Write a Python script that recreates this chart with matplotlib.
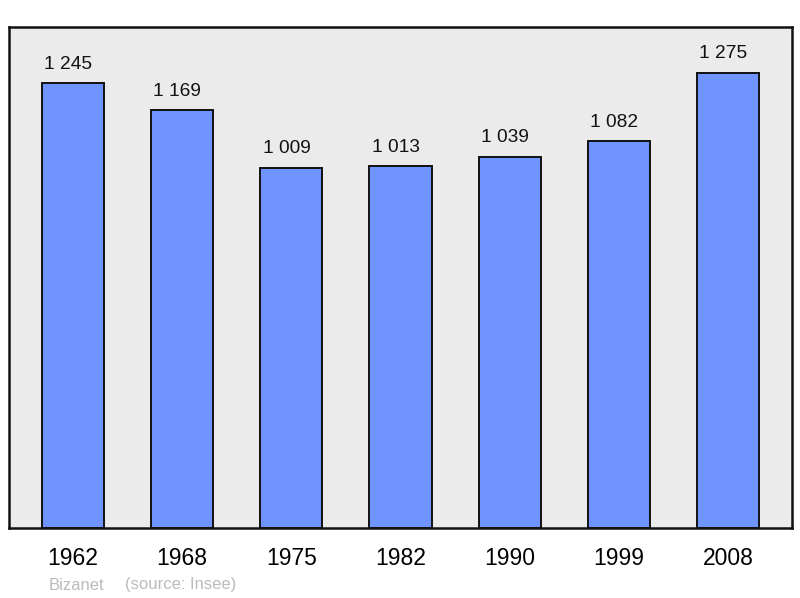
import matplotlib.pyplot as plt

plt.rcParams['font.family'] = ['Liberation Sans', 'DejaVu Sans']

years = ['1962', '1968', '1975', '1982', '1990', '1999', '2008']
population = [1245, 1169, 1009, 1013, 1039, 1082, 1275]
value_labels = ['1 245', '1 169', '1 009', '1 013', '1 039', '1 082', '1 275']

fig = plt.figure(figsize=(8, 5.98), dpi=100)
ax = fig.add_axes([9 / 800, 70 / 598, 783 / 800, 501 / 598])
ax.set_facecolor('#ebebeb')

x = list(range(len(years)))
ax.bar(x, population, width=0.57, color='#7094ff', edgecolor='#111111', linewidth=1.4, zorder=2)

# value labels sit a little left of the bar centre in the original
for i, v in enumerate(population):
    ax.annotate(value_labels[i], (i, v), xytext=(-3.5, 7.5), textcoords='offset points',
                ha='center', va='bottom', fontsize=13.8, color='#111111')

ax.set_xlim(-0.585, 6.585)
ax.set_ylim(0, max(population) * 1.1)
ax.set_xticks(x)
ax.set_xticklabels(years, fontsize=16.5)
ax.tick_params(axis='x', length=0, pad=14)
ax.set_yticks([])
for s in ax.spines.values():
    s.set_linewidth(1.8)
    s.set_color('#111111')

fig.text(49 / 800, 1 - 585 / 598, 'Bizanet', fontsize=12, color='#bbbbbb', va='center')
fig.text(125 / 800, 1 - 585 / 598, '(source: Insee)', fontsize=12, color='#bbbbbb', va='center')

fig.savefig('out.png', dpi=100)
